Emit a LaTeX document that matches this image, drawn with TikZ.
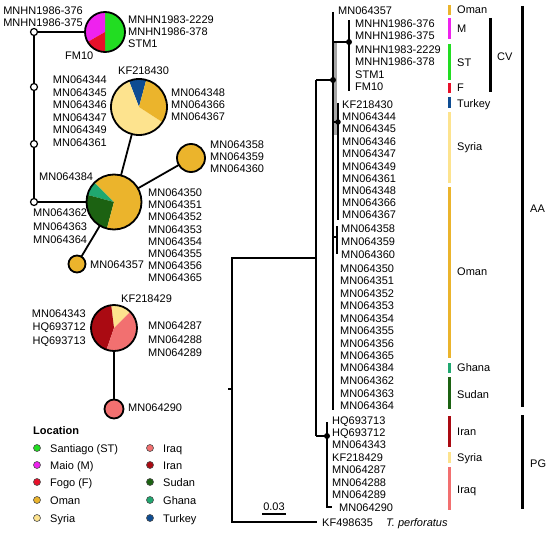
\documentclass[tikz,border=0pt]{standalone}
\usepackage{fontspec}
\setmainfont{Liberation Sans}
\definecolor{cST}{HTML}{22DD22}
\definecolor{cM}{HTML}{EE22EE}
\definecolor{cF}{HTML}{E8102A}
\definecolor{cOman}{HTML}{EBB42C}
\definecolor{cSyria}{HTML}{FDE38E}
\definecolor{cIraq}{HTML}{F27070}
\definecolor{cIran}{HTML}{AA0A12}
\definecolor{cSudan}{HTML}{1C6212}
\definecolor{cGhana}{HTML}{20A870}
\definecolor{cTurkey}{HTML}{0E4C92}
\newcommand\pieslice[5]{\begin{scope}[shift={(#1.center)}, x=1bp, y=1bp]\fill[#5] (0,0) -- (#2:#4) arc[start angle=#2, end angle=#3, radius=#4] -- cycle;\end{scope}}
\tikzset{
  lbl/.style={inner sep=0pt, text height=8bp, text depth=0pt, font=\fontsize{11bp}{13bp}\selectfont},
  lw/.style={lbl, anchor=west},
  le/.style={lbl, anchor=east},
  net/.style={line width=1.8bp},
  tree/.style={line width=1.3bp},
  pienode/.style={circle, inner sep=0pt, outer sep=0pt, minimum size=#1},
  rim/.style={draw=black, line width=1.8bp},
  median/.style={circle, draw=black, fill=white, line width=1.2bp, inner sep=0pt, minimum size=7bp},
  tdot/.style={circle, fill=black, inner sep=0pt, minimum size=6bp},
  bar/.style={line width=3bp},
  brack/.style={line width=3bp, black},
  legdot/.style={circle, draw=black!70, line width=0.6bp, inner sep=0pt, minimum size=7bp},
}
\begin{document}
\begin{tikzpicture}[x=1bp, y=-1bp]
\useasboundingbox (0,0) rectangle (550,533);

% ---------------- network ----------------
\node[pienode=40bp] (pcv) at (105,32) {};
\node[pienode=56bp] (psy) at (139,107) {};
\node[pienode=55bp] (pbig) at (114,202) {};
\node[pienode=28bp] (pom) at (191,158) {};
\node[pienode=17bp] (p357) at (77,264) {};
\node[pienode=46bp] (ppg) at (114,328) {};
\node[pienode=19bp] (p290) at (114,409) {};

\node[median] (w1) at (34,32) {};
\node[median] (w2) at (34,87) {};
\node[median] (w3) at (34,144) {};
\node[median] (w4) at (34,202) {};

\draw[net] (w1) -- (pcv);
\draw[net] (w1) -- (w2);
\draw[net] (w2) -- (w3);
\draw[net] (w3) -- (w4);
\draw[net] (w4) -- (pbig);
\draw[net] (pbig) -- (psy);
\draw[net] (pbig) -- (pom);
\draw[net] (pbig) -- (p357);
\draw[net] (ppg) -- (p290);

% CV pie
\pieslice{pcv}{-90}{90}{20}{cST}
\pieslice{pcv}{90}{210}{20}{cM}
\pieslice{pcv}{210}{270}{20}{cF}
\draw[rim] (pcv) circle[radius=20bp];
% Syria pie
\pieslice{psy}{75}{111}{28}{cTurkey}
\pieslice{psy}{111}{327}{28}{cSyria}
\pieslice{psy}{-33}{75}{28}{cOman}
\draw[rim] (psy) circle[radius=28bp];
% big pie
\pieslice{pbig}{135}{165}{27.5}{cGhana}
\pieslice{pbig}{165}{255}{27.5}{cSudan}
\pieslice{pbig}{255}{495}{27.5}{cOman}
\draw[rim] (pbig) circle[radius=27.5bp];
% small Oman
\fill[cOman] (pom) circle[radius=14bp];
\draw[rim] (pom) circle[radius=14bp];
\fill[cOman] (p357) circle[radius=8.5bp];
\draw[rim] (p357) circle[radius=8.5bp];
% PG pie
\pieslice{ppg}{45}{97}{23}{cSyria}
\pieslice{ppg}{97}{251}{23}{cIran}
\pieslice{ppg}{251}{405}{23}{cIraq}
\draw[rim] (ppg) circle[radius=23bp];
\fill[cIraq] (p290) circle[radius=9.5bp];
\draw[rim] (p290) circle[radius=9.5bp];

% network labels
\node[le] (n1) at (83,11) {MNHN1986-376};
\node[le] (n2) at (83,23) {MNHN1986-375};
\node[lw] (n3) at (128,20) {MNHN1983-2229};
\node[lw] (n4) at (128,32) {MNHN1986-378};
\node[lw] (n5) at (128,44) {STM1};
\node[lw] (n6) at (65,56) {FM10};
\node[lw] (n7) at (118,71) {KF218430};
\node[le] (n8) at (107,80) {MN064344};
\node[le] (n9) at (107,92.5) {MN064345};
\node[le] (n10) at (107,105) {MN064346};
\node[le] (n11) at (107,117.5) {MN064347};
\node[le] (n12) at (107,130) {MN064349};
\node[le] (n13) at (107,142.5) {MN064361};
\node[lw] (n14) at (171,93) {MN064348};
\node[lw] (n15) at (171,105) {MN064366};
\node[lw] (n16) at (171,117) {MN064367};
\node[lw] (n17) at (210,145) {MN064358};
\node[lw] (n18) at (210,157) {MN064359};
\node[lw] (n19) at (210,169) {MN064360};
\node[lw] (n20) at (39,177) {MN064384};
\node[lw] (n21) at (33,213) {MN064362};
\node[lw] (n22) at (33,226) {MN064363};
\node[lw] (n23) at (33,239) {MN064364};
\node[lw] (n24) at (148,192.5) {MN064350};
\node[lw] (n25) at (148,204.5) {MN064351};
\node[lw] (n26) at (148,216.5) {MN064352};
\node[lw] (n27) at (148,229) {MN064353};
\node[lw] (n28) at (148,241) {MN064354};
\node[lw] (n29) at (148,253) {MN064355};
\node[lw] (n30) at (148,265.5) {MN064356};
\node[lw] (n31) at (148,277.5) {MN064365};
\node[lw] (n32) at (90,264) {MN064357};
\node[lw] (n33) at (121,298) {KF218429};
\node[le] (n34) at (86,313) {MN064343};
\node[le] (n35) at (86,326) {HQ693712};
\node[le] (n36) at (86,340) {HQ693713};
\node[lw] (n37) at (148,325) {MN064287};
\node[lw] (n38) at (148,339) {MN064288};
\node[lw] (n39) at (148,352) {MN064289};
\node[lw] (n40) at (128,407) {MN064290};

% legend
\node[lw, font=\fontsize{11bp}{13bp}\selectfont\bfseries] (lgt) at (33,430) {Location};
\node[legdot, fill=cST] (ld1) at (37,448) {};
\node[legdot, fill=cM] (ld2) at (37,465) {};
\node[legdot, fill=cF] (ld3) at (37,482) {};
\node[legdot, fill=cOman] (ld4) at (37,500) {};
\node[legdot, fill=cSyria] (ld5) at (37,518) {};
\node[lw] (lt1) at (50,448) {Santiago (ST)};
\node[lw] (lt2) at (50,465) {Maio (M)};
\node[lw] (lt3) at (50,482) {Fogo (F)};
\node[lw] (lt4) at (50,500) {Oman};
\node[lw] (lt5) at (50,518) {Syria};
\node[legdot, fill=cIraq] (ld6) at (150,448) {};
\node[legdot, fill=cIran] (ld7) at (150,465) {};
\node[legdot, fill=cSudan] (ld8) at (150,482) {};
\node[legdot, fill=cGhana] (ld9) at (150,500) {};
\node[legdot, fill=cTurkey] (ld10) at (150,518) {};
\node[lw] (lt6) at (163,448) {Iraq};
\node[lw] (lt7) at (163,465) {Iran};
\node[lw] (lt8) at (163,482) {Sudan};
\node[lw] (lt9) at (163,500) {Ghana};
\node[lw] (lt10) at (163,518) {Turkey};

% ---------------- tree ----------------
\coordinate (rt) at (232,258);
\coordinate (rb) at (232,522);
\coordinate (rtick) at (228,389);
\coordinate (rtick2) at (232,389);
\coordinate (jt) at (316,258);
\coordinate (aa0) at (316,80);
\coordinate (pg0) at (316,436);
\coordinate (out) at (317,522);
\coordinate (aatop) at (333,12);
\coordinate (aabot) at (333,410);
\coordinate (cv0) at (333,42);
\coordinate (cvtop) at (349,20);
\coordinate (cvbot) at (349,91);
\coordinate (sy0) at (333,122);
\coordinate (sytop) at (338,103);
\coordinate (sybot) at (338,220);
\coordinate (om0) at (333,237);
\coordinate (om1) at (337,237);
\coordinate (omtop) at (337,226);
\coordinate (ombot) at (337,254);
\coordinate (pgtop) at (327,422);
\coordinate (pgbot) at (327,507);
\coordinate (t290) at (332,507);

\draw[gray!70, line width=2.2bp] (335.5,42) -- (335.5,135);
\draw[tree] (jt) -- (rt) -- (rb) -- (out);
\draw[tree] (rtick) -- (rtick2);
\draw[tree] (aa0) -- (pg0);
\draw[tree] (aatop) -- (aabot);
\node[tdot] (aa) at (333,80) {};
\draw[tree] (aa0) -- (aa.center);
\node[tdot] (cv) at (349,42) {};
\draw[tree] (cv0) -- (cv.center);
\draw[tree] (cvtop) -- (cvbot);
\node[tdot, minimum size=5.5bp] (sy) at (338,122) {};
\draw[tree] (sy0) -- (sy.center);
\draw[tree] (sytop) -- (sybot);
\draw[tree] (om0) -- (om1);
\draw[tree] (omtop) -- (ombot);
\node[tdot] (pg) at (327,436) {};
\draw[tree] (pg0) -- (pg.center);
\draw[tree] (pgtop) -- (pgbot) -- (t290);

% tree labels
\node[lw] (a1) at (338,11) {MN064357};
\node[lw] (a2) at (355,24) {MNHN1986-376};
\node[lw] (a3) at (355,36) {MNHN1986-375};
\node[lw] (a4) at (355,50) {MNHN1983-2229};
\node[lw] (a5) at (355,62) {MNHN1986-378};
\node[lw] (a6) at (355,75) {STM1};
\node[lw] (a7) at (355,87) {FM10};
\node[lw] (a8) at (342,105) {KF218430};
\node[lw] (a9) at (342,117) {MN064344};
\node[lw] (a10) at (342,129) {MN064345};
\node[lw] (a11) at (342,142) {MN064346};
\node[lw] (a12) at (342,154) {MN064347};
\node[lw] (a13) at (342,166.5) {MN064349};
\node[lw] (a14) at (342,179) {MN064361};
\node[lw] (a15) at (342,191) {MN064348};
\node[lw] (a16) at (342,203) {MN064366};
\node[lw] (a17) at (342,215) {MN064367};
\node[lw] (a18) at (341,228) {MN064358};
\node[lw] (a19) at (341,241) {MN064359};
\node[lw] (a20) at (341,254.5) {MN064360};
\node[lw] (a21) at (340,268) {MN064350};
\node[lw] (a22) at (340,280.5) {MN064351};
\node[lw] (a23) at (340,293) {MN064352};
\node[lw] (a24) at (340,305.5) {MN064353};
\node[lw] (a25) at (340,318) {MN064354};
\node[lw] (a26) at (340,330.5) {MN064355};
\node[lw] (a27) at (340,343) {MN064356};
\node[lw] (a28) at (340,355.5) {MN064365};
\node[lw] (a29) at (340,367.5) {MN064384};
\node[lw] (a30) at (340,380.5) {MN064362};
\node[lw] (a31) at (340,393) {MN064363};
\node[lw] (a32) at (340,405.5) {MN064364};
\node[lw] (b1) at (332,420) {HQ693713};
\node[lw] (b2) at (332,432) {HQ693712};
\node[lw] (b3) at (332,444) {MN064343};
\node[lw] (b4) at (332,457) {KF218429};
\node[lw] (b5) at (332,469.5) {MN064287};
\node[lw] (b6) at (332,482) {MN064288};
\node[lw] (b7) at (332,494) {MN064289};
\node[lw] (b8) at (339,507) {MN064290};
\node[lw] (b9) at (322,522) {KF498635};
\node[lw, font=\fontsize{11bp}{13bp}\selectfont\itshape] (b10) at (386,522) {T. perforatus};

% scale bar
\coordinate (sb1) at (262,514);
\coordinate (sb2) at (286,514);
\draw[line width=1.2bp] (sb1) -- (sb2);
\node[lbl, anchor=center] (sbl) at (274,506) {0.03};

% location bars
\draw[bar, cOman] (449,5) -- (449,15);
\draw[bar, cM] (449,18) -- (449,39);
\draw[bar, cST] (449,44) -- (449,80);
\draw[bar, cF] (449,83) -- (449,93);
\draw[bar, cTurkey] (449,97) -- (449,108);
\draw[bar, cSyria] (449,112) -- (449,183);
\draw[bar, cOman] (449,187) -- (449,358);
\draw[bar, cGhana] (449,363) -- (449,373);
\draw[bar, cSudan] (449,377) -- (449,409);
\draw[bar, cIran] (449,416) -- (449,447);
\draw[bar, cSyria] (449,452) -- (449,463);
\draw[bar, cIraq] (449,467) -- (449,510);

\node[lw] (c1) at (457,10) {Oman};
\node[lw] (c2) at (457,29) {M};
\node[lw] (c3) at (457,63) {ST};
\node[lw] (c4) at (457,88) {F};
\node[lw] (c5) at (457,103.5) {Turkey};
\node[lw] (c6) at (457,147) {Syria};
\node[lw] (c7) at (457,271.5) {Oman};
\node[lw] (c8) at (457,367.5) {Ghana};
\node[lw] (c9) at (457,394.5) {Sudan};
\node[lw] (c10) at (457,431) {Iran};
\node[lw] (c11) at (457,457) {Syria};
\node[lw] (c12) at (457,489) {Iraq};

% clade brackets
\draw[brack] (490,18) -- (490,92);
\node[lw] (d1) at (497,57) {CV};
\draw[brack] (522,6) -- (522,407);
\node[lw] (d2) at (530,209) {AA};
\draw[brack] (522,415) -- (522,509);
\node[lw] (d3) at (530,463) {PG};
\end{tikzpicture}
\end{document}
